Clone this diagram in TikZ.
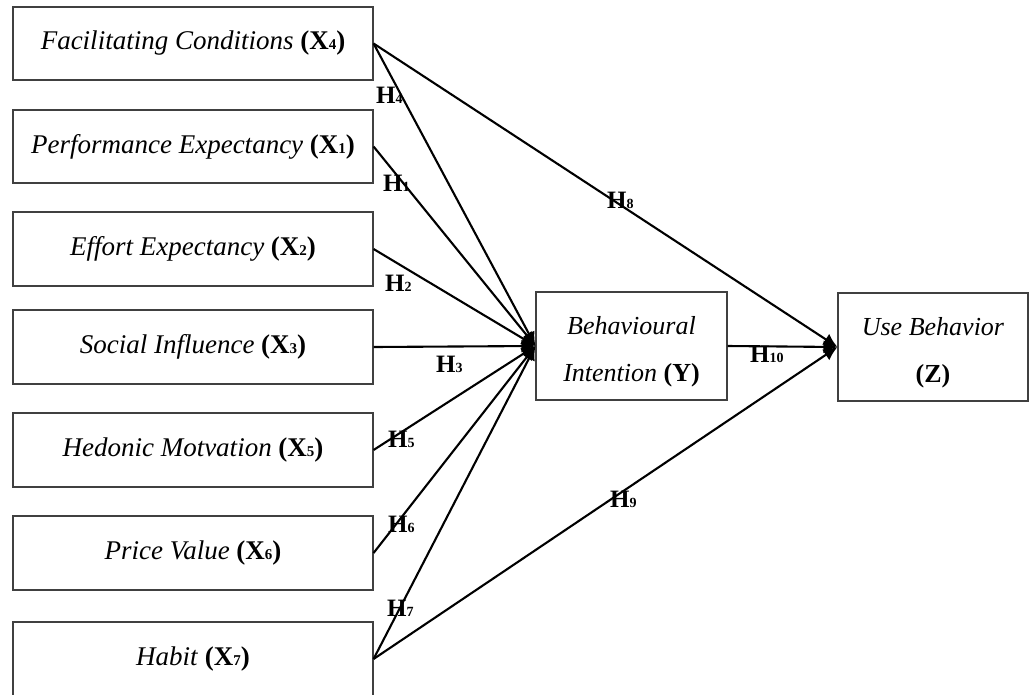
\documentclass[tikz,border=0pt]{standalone}
\usepackage{fontspec}
\setmainfont{Liberation Serif}
\usetikzlibrary{arrows.meta}
\newcommand\xs[1]{{\fontsize{15}{15}\selectfont #1}}
\newcommand\hl[1]{\textbf{H{\fontsize{14}{14}\selectfont #1}}}
\begin{document}
\begin{tikzpicture}[x=1pt,y=-1pt,
  box/.style={draw=black!75, line width=1.1pt, minimum width=360pt, minimum height=73pt,
    inner sep=0pt, font=\fontsize{27}{30}\selectfont},
  rbox/.style={draw=black!75, line width=1.1pt, minimum height=108pt, inner sep=0pt},
  rtext/.style={align=center, inner sep=0pt, font=\fontsize{26}{47}\selectfont},
  conn/.style={line width=2.1pt, -{Latex[length=14pt,width=13pt]}},
  hlab/.style={anchor=base west, inner sep=0pt, font=\fontsize{25}{25}\selectfont}]
\clip (0,0) rectangle (1031,694);
\fill[white] (0,0) rectangle (1031,694);
% left boxes
\node[box] (fc) at (193,43.5) {\textit{Facilitating Conditions} \textbf{(X\xs{4})}};
\node[box] (pe) at (193,146.5) {\textit{Performance Expectancy} \textbf{(X\xs{1})}};
\node[box, minimum height=74pt] (ee) at (193,249) {\textit{Effort Expectancy} \textbf{(X\xs{2})}};
\node[box, minimum height=74pt] (si) at (193,347) {\textit{Social Influence} \textbf{(X\xs{3})}};
\node[box, minimum height=74pt] (hm) at (193,450) {\textit{Hedonic Motvation} \textbf{(X\xs{5})}};
\node[box, minimum height=74pt] (pv) at (193,553) {\textit{Price Value} \textbf{(X\xs{6})}};
\node[box, minimum height=74pt] (hb) at (193,659) {\textit{Habit} \textbf{(X\xs{7})}};
% right boxes
\node[rbox, minimum width=191pt] (bi) at (631.5,346) {};
\node[rtext] (bit) at (631.5,352) {\textit{Behavioural}\\\textit{Intention} \textbf{(Y)}};
\node[rbox, minimum width=190pt] (ub) at (933,347) {};
\node[rtext] (ubt) at (933,353) {\textit{Use Behavior}\\\textbf{(Z)}};
% connectors to BI
\draw[conn] (fc.east) -- (bi.west);
\draw[conn] (pe.east) -- (bi.west);
\draw[conn] (ee.east) -- (bi.west);
\draw[conn] (si.east) -- (bi.west);
\draw[conn] (hm.east) -- (bi.west);
\draw[conn] (pv.east) -- (bi.west);
\draw[conn] (hb.east) -- (bi.west);
% connectors to UB
\draw[conn] (fc.east) -- (ub.west);
\draw[conn] (bi.east) -- (ub.west);
\draw[conn] (hb.east) -- (ub.west);
% labels
\node[hlab] (l4) at (376,103) {\hl{4}};
\node[hlab] (l1) at (383,191) {\hl{1}};
\node[hlab] (l2) at (385,291) {\hl{2}};
\node[hlab] (l3) at (436,372) {\hl{3}};
\node[hlab] (l5) at (388,447) {\hl{5}};
\node[hlab] (l6) at (388,532) {\hl{6}};
\node[hlab] (l7) at (387,616) {\hl{7}};
\node[hlab] (l8) at (607,208) {\hl{8}};
\node[hlab] (l9) at (610,507) {\hl{9}};
\node[hlab] (l10) at (750,362) {\hl{10}};
\end{tikzpicture}
\end{document}
